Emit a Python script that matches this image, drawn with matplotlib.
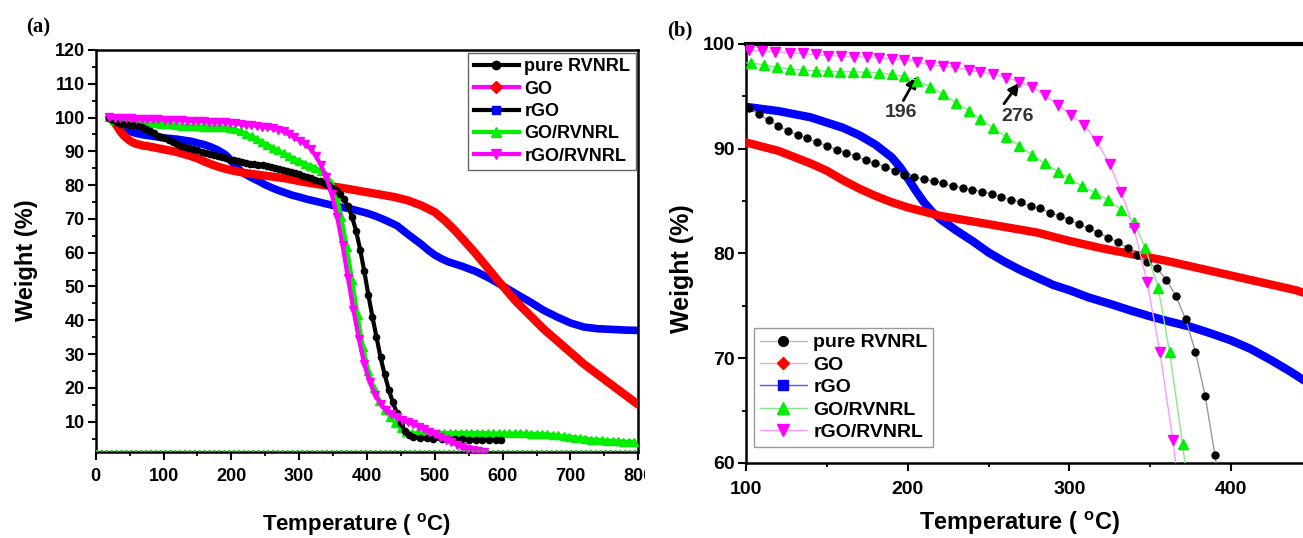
import matplotlib
matplotlib.use('Agg')
import matplotlib.pyplot as plt
from matplotlib.lines import Line2D
from matplotlib.ticker import MultipleLocator
from matplotlib.transforms import Bbox, TransformedBbox

plt.rcParams['font.family'] = ['Liberation Sans', 'DejaVu Sans']
plt.rcParams['font.weight'] = 'bold'
plt.rcParams['mathtext.fontset'] = 'custom'
plt.rcParams['mathtext.rm'] = 'Liberation Sans:bold'

labels = ['pure RVNRL', 'GO', 'rGO', 'GO/RVNRL', 'rGO/RVNRL']

# pure RVNRL
T_pure = [20, 26, 32, 38, 44, 50, 56, 62, 68, 74, 80, 86, 92, 97,
          102, 108, 114, 120, 126, 132, 138, 144, 150, 156, 162, 168, 174, 180, 186, 192, 198,
          204, 210, 216, 222, 228, 234, 240, 246, 252, 258, 264, 270, 276, 282, 288, 294, 300,
          306, 312, 318, 324, 330, 336, 342, 348, 354, 360, 366, 372, 378, 384, 390,
          396, 402, 408, 414, 420, 426, 432, 438, 444, 450, 456, 462, 468,
          478, 488, 498, 510, 520, 530, 540, 550, 560, 570, 580, 590, 598]
W_pure = [100.0, 99.3, 98.6, 98.2, 98.0, 97.9, 97.8, 97.6, 97.3, 96.7, 96.0, 95.3, 94.6, 94.2,
          93.9, 93.3, 92.7, 92.2, 91.7, 91.3, 91.0, 90.6, 90.3, 89.9, 89.6, 89.3, 88.9, 88.6, 88.3, 87.9, 87.5,
          87.3, 87.1, 86.9, 86.7, 86.4, 86.3, 86.1, 85.9, 85.7, 85.4, 85.1, 84.9, 84.5, 84.3, 83.9, 83.6, 83.2,
          82.8, 82.4, 82.0, 81.5, 81.1, 80.5, 79.9, 79.2, 78.6, 77.5, 75.9, 73.7, 70.6, 66.4, 60.8,
          54.5, 47.5, 41.0, 35.0, 29.0, 24.0, 19.5, 15.8, 12.5, 9.5, 7.2, 5.9, 5.4,
          5.2, 5.1, 5.0, 4.9, 4.9, 4.8, 4.8, 4.7, 4.7, 4.6, 4.6, 4.5, 4.5]

# GO
T_go = [20, 24, 28, 32, 36, 40, 45, 50, 55, 60, 70, 80, 90, 100, 110, 120, 130, 140, 150,
        160, 170, 180, 190, 200, 210, 220, 235, 250, 265, 280, 300, 320, 340, 360, 380,
        400, 420, 440, 460, 480, 500, 515, 530, 545, 560, 575, 590, 605, 620, 640, 660,
        680, 700, 720, 740, 760, 780, 800]
W_go = [100.0, 99.6, 98.6, 97.3, 96.0, 95.0, 94.0, 93.2, 92.6, 92.2, 91.7, 91.4, 91.0, 90.6,
        90.2, 89.8, 89.2, 88.6, 87.9, 87.0, 86.2, 85.5, 84.9, 84.4, 84.0, 83.6, 83.2, 82.8,
        82.4, 82.0, 81.2, 80.5, 79.9, 79.3, 78.6, 77.9, 77.2, 76.5, 75.5, 74.0, 72.0, 69.5,
        66.5, 63.2, 59.8, 56.2, 52.5, 49.0, 45.5, 41.5, 37.5, 34.0, 30.5, 27.0, 24.0, 21.0,
        18.0, 15.0]

# rGO
T_rgo = [20, 25, 30, 40, 50, 60, 70, 80, 90, 100, 110, 120, 130, 140, 150, 160, 170, 180,
         185, 190, 195, 200, 205, 210, 215, 220, 230, 240, 250, 260, 270, 280, 290, 300,
         312, 325, 337, 350, 362, 375, 387, 400, 412, 425, 437, 445, 460, 470, 480, 490,
         500, 510, 520, 540, 560, 580, 600, 620, 640, 660, 680, 700, 720, 740, 760, 780, 800]
W_rgo = [100.2, 99.0, 98.0, 96.8, 95.9, 95.3, 94.9, 94.6, 94.3, 94.0, 93.8, 93.6, 93.3,
         93.0, 92.5, 92.0, 91.3, 90.4, 89.8, 89.2, 88.3, 87.2, 86.0, 84.9, 84.0, 83.3, 82.2,
         81.2, 80.1, 79.2, 78.4, 77.7, 77.0, 76.5, 75.8, 75.2, 74.6, 74.0, 73.5, 73.0, 72.4,
         71.7, 70.9, 69.8, 68.7, 67.9, 65.5, 64.0, 62.5, 60.8, 59.3, 58.2, 57.3, 56.0, 54.5,
         52.5, 50.2, 47.8, 45.5, 43.0, 41.0, 39.2, 38.0, 37.5, 37.3, 37.1, 37.0]

# GO/RVNRL
T_gorv = [20, 27, 34, 41, 48, 55, 62, 69, 76, 83, 90, 96,
          103, 111, 119, 127, 135, 143, 151, 158, 166, 174, 182, 190, 198,
          206, 214, 222, 230, 238, 245, 253, 261, 269, 277, 285, 293, 300,
          308, 316, 324, 332, 340, 347, 355, 362, 370,
          378, 386, 394, 402, 410, 418, 426, 434, 442, 450, 458, 466,
          474, 482, 490, 498, 506, 514, 522, 530, 538, 546, 554, 562, 570, 578,
          586, 594, 602, 610, 618, 626, 634, 642, 650,
          658, 666, 674, 682, 690, 698, 706, 714, 722, 730, 738, 746, 754, 762,
          770, 778, 786, 794]
W_gorv = [100.2, 99.4, 98.9, 98.6, 98.5, 98.4, 98.4, 98.3, 98.3, 98.3, 98.3, 98.2,
          98.2, 98.0, 97.8, 97.6, 97.5, 97.45, 97.4, 97.35, 97.35, 97.3, 97.25, 97.1, 96.9,
          96.5, 95.9, 95.2, 94.4, 93.6, 92.8, 92.0, 91.1, 90.3, 89.4, 88.6, 87.8, 87.2,
          86.4, 85.8, 85.1, 84.2, 83.0, 80.5, 76.7, 70.6, 61.8,
          52.0, 41.5, 32.0, 25.0, 20.0, 16.2, 13.5, 11.5, 9.6, 8.0, 7.0, 6.6,
          6.5, 6.5, 6.6, 6.6, 6.6, 6.6, 6.6, 6.6, 6.6, 6.6, 6.6, 6.6, 6.6, 6.6,
          6.5, 6.5, 6.5, 6.5, 6.5, 6.5, 6.5, 6.4, 6.4,
          6.3, 6.2, 6.1, 5.9, 5.7, 5.5, 5.3, 5.1, 4.9, 4.7, 4.6, 4.5, 4.4, 4.3,
          4.2, 4.1, 4.1, 4.0]

# rGO/RVNRL
T_rgorv = [20, 28, 36, 44, 52, 60, 68, 76, 84, 92,
           102, 110, 118, 127, 135, 143, 151, 159, 167, 175, 182, 190, 198,
           206, 214, 222, 229, 238, 245, 253, 261, 269, 277, 285, 293, 301,
           309, 317, 325, 332, 340, 348, 356, 364,
           372, 380, 388, 396, 404, 412, 420, 428, 436, 444, 452, 460, 468, 476, 484, 492, 500,
           508, 516, 524, 532, 540, 548, 556, 564, 572]
W_rgorv = [100.2, 100.0, 99.9, 99.8, 99.8, 99.7, 99.7, 99.6, 99.6, 99.5,
           99.4, 99.35, 99.25, 99.15, 99.1, 99.0, 98.9, 98.85, 98.8, 98.75, 98.7, 98.6, 98.5,
           98.3, 98.0, 97.9, 97.8, 97.5, 97.35, 97.1, 96.8, 96.4, 95.9, 95.1, 94.2, 93.2,
           92.3, 90.7, 88.5, 85.9, 82.4, 77.3, 70.6, 62.2,
           52.5, 43.0, 34.5, 27.0, 21.7, 18.0, 15.3, 13.5, 12.2, 11.3, 10.6, 9.9, 9.3, 8.5, 7.7, 7.0, 6.2,
           5.4, 4.6, 3.9, 3.2, 2.6, 2.0, 1.6, 1.3, 1.1]

GREEN = '#00ee00'
MAGENTA = '#ff00ff'

W, H = 1303, 538
fig = plt.figure(figsize=(W / 100, H / 100), dpi=100)
ax1 = fig.add_axes([95.7 / W, 1 - 451.7 / H, 542.6 / W, 401.7 / H])
ax2 = fig.add_axes([746 / W, 1 - 463 / H, 557 / W, 419 / H])

# ---- panel (a)
ax1.plot(T_rgo, W_rgo, color='#0000ff', lw=5.5, solid_capstyle='round', zorder=2)
ax1.plot(T_go, W_go, color='#ff0000', lw=6, solid_capstyle='round', zorder=3)
ax1.plot(T_gorv, W_gorv, color=GREEN, lw=3, marker='^', ms=5.5, zorder=4)
ax1.plot(T_pure, W_pure, color='black', lw=3, marker='o', ms=4.5, zorder=4.5)
ax1.plot(T_rgorv, W_rgorv, color=MAGENTA, lw=3, marker='v', ms=5.5, zorder=5)
ax1.axhline(1.3, color='#22bb22', lw=1.6, ls=(0, (1, 1.2)), zorder=6)

ax1.set_xlim(0, 800)
ax1.set_ylim(1.1, 120)
ax1.set_xticks(range(0, 801, 100))
ax1.set_yticks(range(10, 121, 10))
ax1.xaxis.set_minor_locator(MultipleLocator(50))
ax1.yaxis.set_minor_locator(MultipleLocator(5))

h_a = [Line2D([], [], color='black', lw=3, marker='o', ms=6, mfc='black', mec='black'),
       Line2D([], [], color=MAGENTA, lw=3, marker='D', ms=6, mfc='red', mec='red'),
       Line2D([], [], color='black', lw=3, marker='s', ms=6, mfc='blue', mec='blue'),
       Line2D([], [], color=GREEN, lw=3, marker='^', ms=7, mfc=GREEN, mec=GREEN),
       Line2D([], [], color=MAGENTA, lw=3, marker='v', ms=7, mfc=MAGENTA, mec=MAGENTA)]
leg = ax1.legend(h_a, labels, loc='upper right', bbox_to_anchor=(1.0, 1.0), borderaxespad=0.15,
                 fontsize=13, handlelength=2.5, handletextpad=0.3, labelspacing=0.3,
                 borderpad=0.3, fancybox=False, framealpha=1)
leg.get_frame().set_edgecolor('#666666')
leg.get_frame().set_linewidth(1.0)

# ---- panel (b)
ax2.plot(T_rgo, W_rgo, color='#0000ff', lw=6, solid_capstyle='round', zorder=2)
ax2.plot(T_go, W_go, color='#ff0000', lw=6, solid_capstyle='round', zorder=3)
ax2.plot(T_pure, W_pure, color='#999999', lw=1, marker='o', ms=5, mfc='black', mec='black', zorder=4)
ax2.plot(T_gorv, W_gorv, color='#88e888', lw=1, marker='^', ms=6.5, mfc=GREEN, mec=GREEN, zorder=5)
ax2.plot(T_rgorv, W_rgorv, color='#ff99ff', lw=1, marker='v', ms=6.5, mfc=MAGENTA, mec=MAGENTA, zorder=5)

ax2.set_xlim(100, 444.5)
ax2.set_ylim(60, 100)
ax2.set_xticks([100, 200, 300, 400])
ax2.set_yticks([60, 70, 80, 90, 100])
ax2.xaxis.set_minor_locator(MultipleLocator(50))
ax2.yaxis.set_minor_locator(MultipleLocator(5))

h_b = [Line2D([], [], color='#bbbbbb', lw=1, marker='o', ms=7, mfc='black', mec='black'),
       Line2D([], [], color='#ffaaaa', lw=1, marker='D', ms=6.5, mfc='red', mec='red'),
       Line2D([], [], color='#5555ff', lw=1, marker='s', ms=6.5, mfc='blue', mec='blue'),
       Line2D([], [], color='#88e888', lw=1, marker='^', ms=8, mfc=GREEN, mec=GREEN),
       Line2D([], [], color='#ff99ff', lw=1, marker='v', ms=8, mfc=MAGENTA, mec=MAGENTA)]
leg2 = ax2.legend(h_b, labels, loc='lower left', bbox_to_anchor=(0.0144, 0.038), borderaxespad=0,
                  fontsize=14, handlelength=2.4, handletextpad=0.35, labelspacing=0.25,
                  borderpad=0.3, fancybox=False, framealpha=1)
leg2.get_frame().set_edgecolor('#999999')
leg2.get_frame().set_linewidth(1.0)

ax2.annotate('', xy=(205.7, 96.9), xytext=(197.3, 94.6),
             arrowprops=dict(arrowstyle='-|>', color='black', lw=2, mutation_scale=16,
                             shrinkA=0, shrinkB=0))
ax2.text(195.7, 93.5, '196', ha='center', va='center', fontsize=14, color='#333333')
ax2.annotate('', xy=(269, 96.3), xytext=(259.6, 94.3),
             arrowprops=dict(arrowstyle='-|>', color='black', lw=2, mutation_scale=16,
                             shrinkA=0, shrinkB=0))
ax2.text(268.2, 93.1, '276', ha='center', va='center', fontsize=14, color='#333333')

# ---- common styling
for ax, fs, lw in [(ax1, 13, 1.8), (ax2, 14, 1.8)]:
    for s in ax.spines.values():
        s.set_linewidth(lw)
    ax.tick_params(which='major', direction='out', length=5.8, width=1.5, labelsize=fs)
    ax.tick_params(which='minor', direction='out', length=3, width=1.3)
    ax.tick_params(axis='y', which='major', pad=2)
ax1.tick_params(axis='x', which='major', pad=6)
ax2.tick_params(axis='x', which='major', pad=7)
ax2.spines['right'].set_visible(False)
ax2.spines['top'].set_linewidth(3)

# clip the 800 label at the panel edge like in the source figure
fig.canvas.draw()
clip = TransformedBbox(Bbox([[0, 0], [645 / W, 1]]), fig.transFigure)
for t in ax1.xaxis.get_major_ticks():
    t.label1.set_clip_box(clip)
    t.label1.set_clip_on(True)

fig.text(38 / W, 1 - 27 / H, '(a)', family='Liberation Serif', fontsize=15, fontweight='bold',
         ha='center', va='center')
fig.text(680 / W, 1 - 30 / H, '(b)', family='Liberation Serif', fontsize=15, fontweight='bold',
         ha='center', va='center')

fig.text(26.7 / W, 1 - 260 / H, 'Weight (%)', rotation=90, fontsize=17, ha='center', va='center')
fig.text(681.5 / W, 1 - 269 / H, 'Weight (%)', rotation=90, fontsize=18, ha='center', va='center')
fig.text(357 / W, 1 - 530 / H, 'Temperature ( $^{\\rm o}$C)', fontsize=16, ha='center', va='baseline')
fig.text(1019.7 / W, 1 - 530 / H, 'Temperature ( $^{\\rm o}$C)', fontsize=17, ha='center', va='baseline')

fig.savefig('out.png', dpi=100)
